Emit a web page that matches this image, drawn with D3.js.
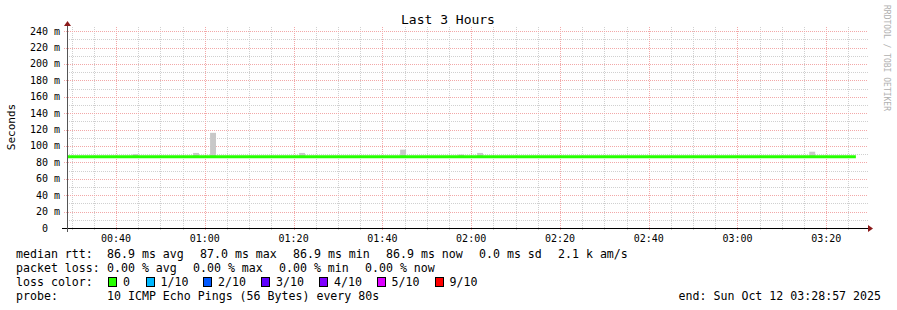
<!DOCTYPE html>
<html>
<head>
<meta charset="utf-8">
<script src="https://cdn.jsdelivr.net/npm/d3@7"></script>
<style>
  body { margin: 0; background: #fff; }
  svg { display: block; }
  text { font-family: "DejaVu Sans Mono", monospace; fill: #000; white-space: pre; }
</style>
</head>
<body>
<script>
// data
var startTime = "2025-10-12T00:28:57Z";
var endTime = "2025-10-12T03:28:57Z";
var stepSeconds = 80;

var medianTimes = ["00:28:57", "03:26:40"];
var medianValues = [86.9, 86.9];

// smoke spikes (start of 80 s step, top of smoke in ms)
var smokeTimes = ["00:43:43", "00:57:21", "01:01:11", "01:21:14", "01:44:00", "01:57:04", "02:01:20", "03:16:10"];
var smokeTops = [90, 91.5, 116, 91.5, 95.5, 89.5, 91.5, 93];
var smokeBase = 86.9;

var yTicks = [0, 20, 40, 60, 80, 100, 120, 140, 160, 180, 200, 220, 240];

var lossLabels = ["0", "1/10", "2/10", "3/10", "4/10", "5/10", "9/10"];
var lossColors = ["#26ff00", "#00b8ff", "#0059ff", "#5e00ff", "#7e00ff", "#dd00ff", "#ff0000"];

var rttLabels = ["86.9 ms avg", "87.0 ms max", "86.9 ms min", "86.9 ms now", "0.0 ms sd", "2.1 k am/s"];
var lossStats = ["0.00 % avg", "0.00 % max", "0.00 % min", "0.00 % now"];

function toDate(hms) { return new Date("2025-10-12T" + hms + "Z"); }

var W = 897, H = 310;
var pLeft = 67, pRight = 866, pTop = 27, pBottom = 228;

var svg = d3.select("body").append("svg").attr("width", W).attr("height", H);

var x = d3.scaleUtc()
    .domain([new Date(startTime), new Date(endTime)])
    .range([pLeft, pRight]);
var y = d3.scaleLinear().domain([0, 245]).range([pBottom, pTop]);

// grid
var minorCol = "#d0d0d0", majorCol = "#f2a8a8";
var grid = svg.append("g").attr("shape-rendering", "crispEdges");
var minorX = d3.utcMinute.every(5).range(x.domain()[0], x.domain()[1]);
grid.selectAll(".vmin").data(minorX.filter(function (d) { return d.getUTCMinutes() % 20 != 0; }))
    .enter().append("line")
    .attr("x1", function (d) { return Math.round(x(d)) + 0.5; })
    .attr("x2", function (d) { return Math.round(x(d)) + 0.5; })
    .attr("y1", pTop).attr("y2", pBottom + 2)
    .attr("stroke", minorCol).attr("stroke-dasharray", "1,1");
var yMinor = d3.range(10, 250, 20);
grid.selectAll(".hmin").data(yMinor).enter().append("line")
    .attr("x1", pLeft).attr("x2", pRight + 2)
    .attr("y1", function (d) { return Math.round(y(d)) + 0.5; })
    .attr("y2", function (d) { return Math.round(y(d)) + 0.5; })
    .attr("stroke", minorCol).attr("stroke-dasharray", "1,1");
var majorX = minorX.filter(function (d) { return d.getUTCMinutes() % 20 == 0; });
grid.selectAll(".vmaj").data(majorX).enter().append("line")
    .attr("x1", function (d) { return Math.round(x(d)) + 0.5; })
    .attr("x2", function (d) { return Math.round(x(d)) + 0.5; })
    .attr("y1", pTop).attr("y2", pBottom + 3)
    .attr("stroke", majorCol).attr("stroke-dasharray", "1,1");
grid.selectAll(".hmaj").data(yTicks.slice(1)).enter().append("line")
    .attr("x1", pLeft - 3).attr("x2", pRight + 2)
    .attr("y1", function (d) { return Math.round(y(d)) + 0.5; })
    .attr("y2", function (d) { return Math.round(y(d)) + 0.5; })
    .attr("stroke", majorCol).attr("stroke-dasharray", "1,1");

// smoke
svg.append("g").selectAll("rect").data(smokeTimes).enter().append("rect")
    .attr("x", function (d) { return x(toDate(d)); })
    .attr("width", function (d) { return x(new Date(toDate(d).getTime() + stepSeconds * 1000)) - x(toDate(d)); })
    .attr("y", function (d, i) { return y(smokeTops[i]); })
    .attr("height", function (d, i) { return y(smokeBase) - y(smokeTops[i]); })
    .attr("fill", "#c8c8c8");

// median line
var line = d3.line()
    .x(function (d) { return x(toDate(d)); })
    .y(function (d, i) { return y(medianValues[i]); });
svg.append("path").datum(medianTimes)
    .attr("d", line)
    .attr("fill", "none").attr("stroke", lossColors[0]).attr("stroke-width", 3);

// axes
var ax = svg.append("g").attr("shape-rendering", "crispEdges");
ax.append("line").attr("x1", pLeft - 5).attr("x2", pRight + 4)
    .attr("y1", pBottom + 0.5).attr("y2", pBottom + 0.5).attr("stroke", "#000");
ax.append("line").attr("x1", pLeft + 0.5).attr("x2", pLeft + 0.5)
    .attr("y1", pBottom + 4).attr("y2", pTop - 3).attr("stroke", "#555");
svg.append("path").attr("d", "M" + (pRight + 2) + "," + (pBottom - 3) + "L" + (pRight + 7) + "," + (pBottom + 0.5) + "L" + (pRight + 2) + "," + (pBottom + 4) + "Z")
    .attr("fill", "#8b1a1a");
svg.append("path").attr("d", "M" + (pLeft - 3) + "," + (pTop - 1) + "L" + (pLeft + 0.5) + "," + (pTop - 6) + "L" + (pLeft + 4) + "," + (pTop - 1) + "Z")
    .attr("fill", "#8b1a1a");

// tick labels
svg.append("g").selectAll("text").data(yTicks).enter().append("text")
    .attr("x", function (d) { return d == 0 ? 48 : 60; })
    .attr("y", function (d) { return y(d) + 3.5; })
    .attr("text-anchor", "end")
    .style("font-size", "10px")
    .text(function (d) { return d == 0 ? "0" : d + " m"; });

var timeFmt = d3.utcFormat("%H:%M");
svg.append("g").selectAll("text").data(majorX).enter().append("text")
    .attr("x", function (d) { return x(d); })
    .attr("y", 241.5)
    .attr("text-anchor", "middle")
    .style("font-size", "10px")
    .text(function (d) { return timeFmt(d); });

// title and labels
svg.append("text").attr("x", 448).attr("y", 24).attr("text-anchor", "middle")
    .style("font-size", "13px").text("Last 3 Hours");
svg.append("text").attr("transform", "translate(15,127) rotate(-90)").attr("text-anchor", "middle")
    .style("font-size", "11px").text("Seconds");
svg.append("text").attr("transform", "translate(884,5) rotate(90)")
    .style("font-size", "8px").style("fill", "#b0b0b0").text("RRDTOOL / TOBI OETIKER");

// legend
var lg = svg.append("g").style("font-size", "11.6px");
var rttX = [107, 200, 293, 386, 479, 558];
lg.append("text").attr("x", 16).attr("y", 258).text("median rtt:");
lg.selectAll(".rtt").data(rttLabels).enter().append("text")
    .attr("x", function (d, i) { return rttX[i]; }).attr("y", 258).text(function (d) { return d; });
var lossX = [107, 193, 279, 365];
lg.append("text").attr("x", 16).attr("y", 272).text("packet loss:");
lg.selectAll(".loss").data(lossStats).enter().append("text")
    .attr("x", function (d, i) { return lossX[i]; }).attr("y", 272).text(function (d) { return d; });
lg.append("text").attr("x", 16).attr("y", 286).text("loss color:");
var boxX = [108, 145.5, 203, 261, 319, 376.5, 434.5];
lg.selectAll(".box").data(lossColors).enter().append("rect")
    .attr("x", function (d, i) { return Math.round(boxX[i]) + 0.5; }).attr("y", 277.5)
    .attr("width", 8).attr("height", 9)
    .attr("fill", function (d) { return d; }).attr("stroke", "#000");
lg.selectAll(".boxl").data(lossLabels).enter().append("text")
    .attr("x", function (d, i) { return boxX[i] + 15; }).attr("y", 286).text(function (d) { return d; });
lg.append("text").attr("x", 16).attr("y", 300).text("probe:");
lg.append("text").attr("x", 107).attr("y", 300).text("10 ICMP Echo Pings (56 Bytes) every 80s");
lg.append("text").attr("x", 881).attr("y", 300).attr("text-anchor", "end").text("end: Sun Oct 12 03:28:57 2025");
</script>
</body>
</html>
